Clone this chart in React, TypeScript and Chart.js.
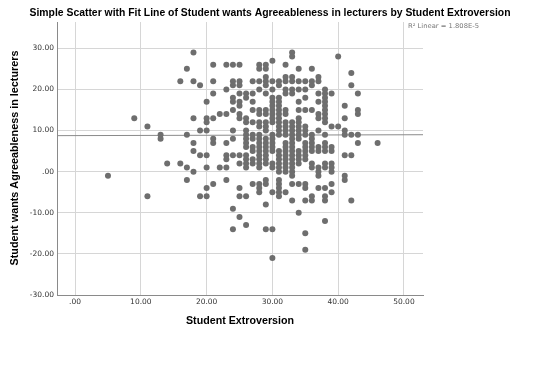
import { useEffect, useRef } from "react";
import { Chart, registerables } from "chart.js";

Chart.register(...registerables);

const TITLE = "Simple Scatter with Fit Line of Student wants Agreeableness in lecturers by Student Extroversion";
const X_LABEL = "Student Extroversion";
const Y_LABEL = "Student wants Agreeableness in lecturers";
const R2_LABEL = "R² Linear = 1.808E-5";

const xTicks = [0, 10, 20, 30, 40, 50];
const yTicks = [-30, -20, -10, 0, 10, 20, 30];
const X_MIN = -2.75;
const X_MAX = 52.9;
const Y_MIN = -30;
const Y_MAX = 36.4;

const fitIntercept = 8.77;
const fitSlope = 0.004;

// Student Extroversion score (x) for each column of points
const extroversion = [5, 9, 11, 13, 14, 16, 17, 18, 19, 20, 21, 22, 23, 24, 25, 26, 27, 28, 29, 30, 31, 32, 33, 34, 35, 36, 37, 38, 39, 40, 41, 42, 43, 46];

// Student wants Agreeableness in lecturers (y) values observed in each column
const agreeableness = [
  [-1],
  [13],
  [11, -6],
  [9, 8],
  [2],
  [22, 2],
  [25, 9, 1, -2],
  [29, 22, 13, 7, 5, 0],
  [21, 10, 4, -6],
  [17, 13, 12, 10, 4, 1, -4, -6],
  [26, 22, 19, 13, 8, 7, -3],
  [14, 1],
  [26, 20, 14, 7, 4, 3, 1, -2],
  [26, 22, 21, 18, 17, 15, 10, 8, 4, -9, -14],
  [26, 22, 21, 19, 17, 16, 14, 13, 4, 2, -4, -6, -11],
  [19, 18, 13, 12, 10, 9, 8, 7, 6, 4, 3, 2, 1, -6, -13],
  [22, 19, 17, 15, 12, 9, 8, 6, 5, 3, 2, -3],
  [26, 25, 22, 20, 15, 14, 12, 11, 9, 8, 7, 6, 5, 4, 3, 2, 1, -3, -4, -5],
  [26, 25, 23, 22, 21, 19, 15, 14, 12, 11, 10, 8, 7, 6, 5, 4, 3, 2, -2, -3, -8, -14],
  [27, 22, 20, 18, 17, 16, 15, 14, 13, 12, 9, 8, 7, 6, 5, 2, 1, -5, -14, -21],
  [22, 21, 18, 17, 16, 15, 14, 13, 12, 11, 10, 9, 5, 4, 3, 2, 1, 0, -2, -3, -4, -5, -6],
  [26, 23, 22, 20, 19, 15, 14, 12, 11, 10, 9, 7, 6, 5, 4, 3, 2, 1, 0, -5],
  [29, 28, 23, 22, 20, 19, 12, 11, 10, 9, 8, 7, 6, 5, 4, 3, 2, 1, 0, -1, -3, -7],
  [25, 22, 20, 17, 15, 13, 12, 11, 10, 9, 8, 5, 4, 3, 2, -3, -10],
  [22, 20, 18, 15, 11, 10, 9, 7, 6, 5, 4, 3, -3, -4, -7, -15, -19],
  [25, 22, 21, 15, 9, 8, 7, 6, 5, 2, 1, -6, -7],
  [23, 22, 19, 17, 14, 13, 10, 6, 5, 1, 0, -1, -4],
  [20, 19, 18, 17, 16, 15, 14, 13, 12, 9, 7, 6, 5, 2, 1, -4, -6, -7, -12],
  [19, 11, 6, 5, 2, 1, 0, -3, -5],
  [28, 11],
  [16, 13, 10, 9, 4, -1, -2],
  [24, 21, 9, 4, -7],
  [19, 15, 14, 9, 7],
  [7],
];

const fmt = (v: number) => (v === 0 ? ".00" : v.toFixed(2));
const FAMILY = '"DejaVu Sans", "Liberation Sans", sans-serif';
const LABEL_FAMILY = '"Liberation Sans", Arial, sans-serif';

function drawFitted(
  ctx: CanvasRenderingContext2D,
  text: string,
  x: number,
  y: number,
  font: string,
  target: number,
  rotate = false
) {
  ctx.save();
  ctx.font = font;
  const w = ctx.measureText(text).width;
  const sx = target / w;
  ctx.translate(x, y);
  if (rotate) ctx.rotate(-Math.PI / 2);
  ctx.scale(sx, 1);
  ctx.fillText(text, 0, 0);
  ctx.restore();
}

const textPlugin = {
  id: "texts",
  afterDraw(chart: any) {
    const ctx: CanvasRenderingContext2D = chart.ctx;
    ctx.save();
    ctx.textAlign = "center";
    ctx.textBaseline = "middle";
    ctx.fillStyle = "#000";
    drawFitted(ctx, TITLE, 270, 13, `bold 11px ${LABEL_FAMILY}`, 481);
    drawFitted(ctx, X_LABEL, 240, 321, `bold 11.5px ${LABEL_FAMILY}`, 108);
    drawFitted(ctx, Y_LABEL, 15, 158, `bold 11.5px ${LABEL_FAMILY}`, 215, true);
    ctx.fillStyle = "#777";
    ctx.textAlign = "left";
    ctx.font = `6.5px ${FAMILY}`;
    const w = ctx.measureText(R2_LABEL).width;
    ctx.save();
    ctx.translate(408, 26);
    ctx.scale(71 / w, 1);
    ctx.fillText(R2_LABEL, 0, 0);
    ctx.restore();
    ctx.restore();
  },
};

export default function App() {
  const ref = useRef<HTMLCanvasElement>(null);

  useEffect(() => {
    if (!ref.current) return;
    const points: { x: number; y: number }[] = [];
    extroversion.forEach((x, i) => {
      agreeableness[i].forEach((y) => points.push({ x, y }));
    });
    const fit = (x: number) => fitIntercept + fitSlope * x;

    const chart = new Chart(ref.current, {
      type: "scatter",
      data: {
        datasets: [
          {
            type: "line",
            data: [
              { x: X_MIN, y: fit(X_MIN) },
              { x: X_MAX, y: fit(X_MAX) },
            ],
            borderColor: "#8a8a8a",
            borderWidth: 1,
            pointRadius: 0,
            order: 2,
          } as any,
          {
            data: points,
            backgroundColor: "#6e6e6e",
            borderWidth: 0,
            pointRadius: 3,
            order: 1,
          },
        ],
      },
      options: {
        responsive: false,
        animation: false,
        events: [],
        layout: { padding: { left: 0, top: 22, right: 123, bottom: 65 } },
        plugins: { legend: { display: false }, tooltip: { enabled: false }, title: { display: false } },
        scales: {
          x: {
            type: "linear",
            min: X_MIN,
            max: X_MAX,
            afterBuildTicks: (s: any) => {
              s.ticks = xTicks.map((v) => ({ value: v }));
            },
            afterFit: (s: any) => {
              s.height = 20;
            },
            ticks: {
              callback: (v: any) => fmt(Number(v)),
              font: { size: 7.5, family: FAMILY },
              color: "#333",
              maxRotation: 0,
              padding: 3,
            },
            grid: { color: "#d6d6d6", lineWidth: 1, drawTicks: false },
            border: { color: "#8a8a8a", width: 1 },
          },
          y: {
            type: "linear",
            min: Y_MIN,
            max: Y_MAX,
            afterBuildTicks: (s: any) => {
              s.ticks = yTicks.map((v) => ({ value: v }));
            },
            afterFit: (s: any) => {
              s.width = 57;
            },
            ticks: {
              callback: (v: any) => fmt(Number(v)),
              font: { size: 7.5, family: FAMILY },
              color: "#333",
              padding: 3,
            },
            grid: { color: "#d6d6d6", lineWidth: 1, drawTicks: false },
            border: { color: "#8a8a8a", width: 1 },
          },
        },
      },
      plugins: [textPlugin],
    });
    return () => chart.destroy();
  }, []);

  return (
    <div style={{ position: "absolute", left: 0, top: 0, width: 546, height: 380, background: "#fff" }}>
      <canvas ref={ref} width={546} height={380} style={{ width: 546, height: 380 }} />
    </div>
  );
}
